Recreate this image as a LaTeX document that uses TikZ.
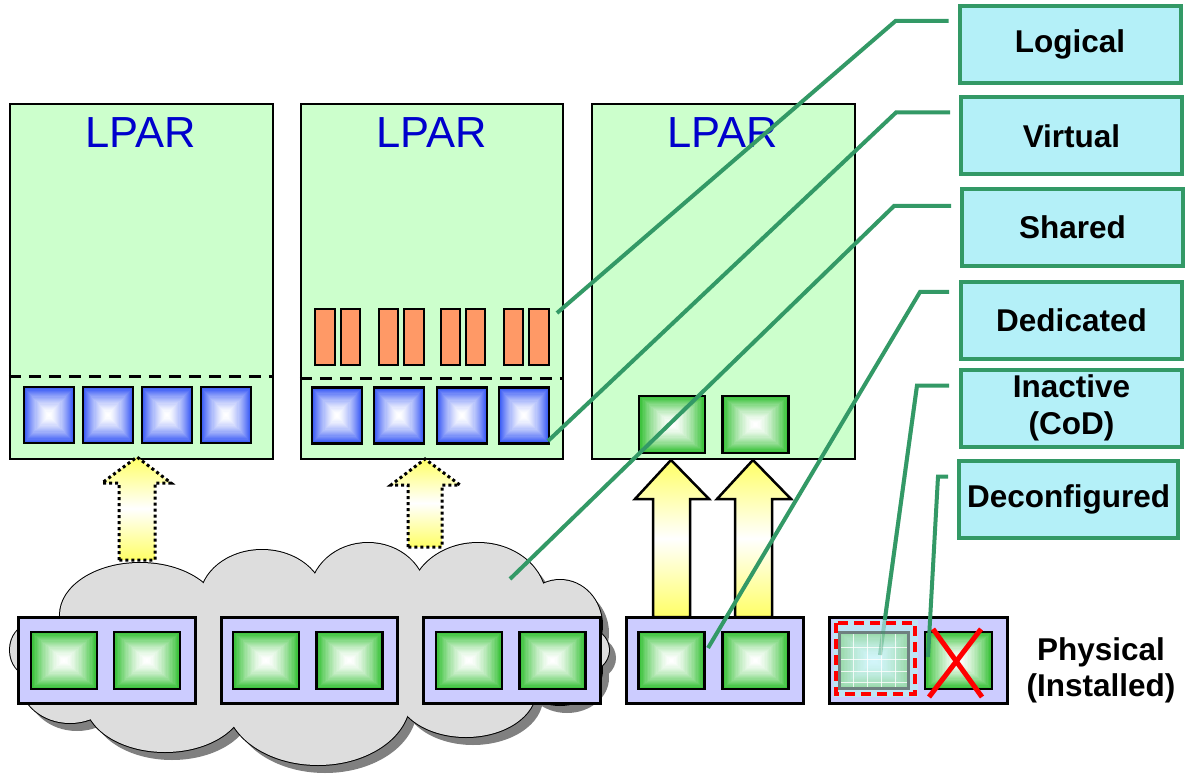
\documentclass[tikz,border=0pt]{standalone}
\usepackage{fontspec}
\setmainfont{Liberation Sans}
\usetikzlibrary{calc}
\definecolor{lparfill}{HTML}{CCFFCC}
\definecolor{lpartext}{HTML}{0000CC}
\definecolor{basefill}{HTML}{CCCCFF}
\definecolor{cloudfill}{HTML}{DDDDDD}
\definecolor{cloudshadow}{HTML}{808080}
\definecolor{barorange}{HTML}{FF9966}
\definecolor{leadgreen}{HTML}{339966}
\definecolor{labelcyan}{HTML}{B4F0F8}
\definecolor{chipgreen}{HTML}{33C033}
\definecolor{chipblue}{HTML}{3355F5}
\definecolor{arrowyellow}{HTML}{FFFF66}
\definecolor{inactbg}{HTML}{BEE4F4}
\definecolor{inactedge}{HTML}{98D8A8}
\definecolor{inactcenter}{HTML}{D2F5FA}
\definecolor{inactgray}{HTML}{6E8080}
\newcommand{\chipfill}[2]{%
  \foreach \i in {0,...,23}{%
    \pgfmathsetmacro{\ff}{\i/48}%
    \pgfmathsetmacro{\pp}{100*(1-\i/23)^1.5}%
    \fill[#1!\pp!#2] ($(path picture bounding box.south west)!\ff!(path picture bounding box.north east)$) rectangle ($(path picture bounding box.north east)!\ff!(path picture bounding box.south west)$);%
  }}
\begin{document}
\begin{tikzpicture}[x=1pt,y=-1pt,
  lparbox/.style={draw=black, line width=2.5pt, fill=lparfill, inner sep=0pt, minimum height=355pt},
  lpartitle/.style={text=lpartext, font=\fontsize{43.5}{48}\selectfont, inner sep=0pt},
  sepline/.style={draw=black, line width=3pt, dash pattern=on 12pt off 8pt},
  chip/.style n args={4}{draw=black, line width=2.5pt, inner sep=0pt, minimum width=#1, minimum height=#2, path picture={\chipfill{#3}{#4}}},
  bar/.style={draw=black, line width=2pt, fill=barorange, inner sep=0pt, minimum width=19.5pt, minimum height=56pt},
  basebox/.style={draw=black, line width=3pt, fill=basefill, inner sep=0pt, minimum height=86pt},
  blockarrow/.style={top color=arrowyellow, bottom color=arrowyellow, middle color=white},
  dottedarrow/.style={blockarrow, draw=black, line width=3pt, dash pattern=on 3pt off 3pt},
  solidarrow/.style={blockarrow, draw=black, line width=2.5pt, line join=miter},
  labelbox/.style={draw=leadgreen, line width=4pt, fill=labelcyan, minimum width=221pt, minimum height=77pt, inner sep=0pt, align=center, font=\fontsize{31.5}{37}\selectfont\bfseries},
  leader/.style={draw=leadgreen, line width=4pt},
  redx/.style={draw=red, line width=5pt}
]
\useasboundingbox (0,0) rectangle (1188,775);

% LPAR boxes
\node[lparbox, minimum width=263pt] (lpar1) at (141.5,281.5) {};
\node[lparbox, minimum width=262pt] (lpar2) at (432,281.5) {};
\node[lparbox, minimum width=263pt] (lpar3) at (723.5,281.5) {};
\node[lpartitle] (t1) at (141,133) {LPAR};
\node[lpartitle] (t2) at (432,133) {LPAR};
\node[lpartitle] (t3) at (723,133) {LPAR};

% separators
\draw[sepline] (lpar1.west |- 0,376) -- (lpar1.east |- 0,376);
\draw[sepline] (lpar2.west |- 0,378) -- (lpar2.east |- 0,378);

% chips inside LPARs
\foreach \n/\x in {1/49,2/108,3/167,4/226}
  \node[chip={50pt}{56pt}{chipblue}{white}] (la\n) at (\x,415) {};
\foreach \n/\x in {1/337,2/399,3/462,4/524}
  \node[chip={50pt}{56pt}{chipblue}{white}] (lb\n) at (\x,415.5) {};
\foreach \n/\x in {1/325,2/350.5,3/388.5,4/414,5/450.5,6/475.5,7/513.5,8/539}
  \node[bar] (o\n) at (\x,337) {};
\foreach \n/\x in {1/672,2/755.5}
  \node[chip={66pt}{57pt}{chipgreen}{white}] (lc\n) at (\x,424.5) {};

% arrows
\path[dottedarrow] (119,560) -- (119,483) -- (102,483) -- (137,457) -- (171,483) -- (155,483) -- (155,560) -- cycle;
\path[dottedarrow] (408,547) -- (408,485) -- (391,485) -- (425,459) -- (460,485) -- (442,485) -- (442,547) -- cycle;
\path[solidarrow] (653,617) -- (653,499) -- (635,499) -- (671,460) -- (709,499) -- (690,499) -- (690,617) -- cycle;
\path[solidarrow] (735,617) -- (735,499) -- (717,499) -- (753,460) -- (791,499) -- (772,499) -- (772,617) -- cycle;

% cloud
\def\cloudlist{140/615/80/52, 262/600/62/50, 368/595/58/52, 478/600/68/57, 560/625/42/45, 585/650/24/22, 560/670/42/35, 466/690/70/47, 318/700/92/65, 165/700/80/52, 70/680/50/43, 30/650/20/25}
\foreach \cx/\cy/\rx/\ry in \cloudlist
  \fill[cloudshadow] (\cx+7,\cy+8) ellipse [x radius=\rx, y radius=\ry];
\foreach \cx/\cy/\rx/\ry in \cloudlist
  \draw[black, line width=2pt] (\cx,\cy) ellipse [x radius=\rx, y radius=\ry];
\foreach \cx/\cy/\rx/\ry in \cloudlist
  \fill[cloudfill] (\cx,\cy) ellipse [x radius=\rx, y radius=\ry];
\fill[cloudfill] (310,650) ellipse [x radius=250, y radius=70];

% physical boxes
\node[basebox, minimum width=177pt] (p1) at (106.5,660) {};
\node[basebox, minimum width=176pt] (p2) at (309,660) {};
\node[basebox, minimum width=177pt] (p3) at (511.5,660) {};
\node[basebox, minimum width=177pt] (p4) at (714.5,660) {};
\node[basebox, minimum width=178pt] (p5) at (918,660) {};
\foreach \n/\x in {1/64,2/147,3/266,4/349.5,5/469,6/552.5,7/671.5,8/755.5}
  \node[chip={66pt}{57pt}{chipgreen}{white}] (pc\n) at (\x,660.5) {};
\node[chip={67pt}{57pt}{chipgreen}{white}] (deconf) at (958.5,660.5) {};

% label boxes
\node[labelbox] (logical) at (1070,44.5) {Logical};
\node[labelbox] (virtual) at (1071.5,136) {Virtual};
\node[labelbox] (shared) at (1072.5,227.5) {Shared};
\node[labelbox] (dedicated) at (1071.5,320.5) {Dedicated};
\node[labelbox] (inactive) at (1071.5,408) {Inactive\\[0pt](CoD)};
\node[labelbox, minimum width=219pt] (deconfigured) at (1068.5,499) {Deconfigured};
\node[inner sep=0pt, align=center, font=\fontsize{31.5}{36}\selectfont\bfseries] (phys) at (1101,670) {Physical\\(Installed)};

% leader end points
\coordinate (eLog) at (557,313);
\coordinate (eVir) at (548,441);
\coordinate (eSha) at (510,579);
\coordinate (eDed) at (708,648);
\coordinate (eIna) at (880,655);
\coordinate (eDec) at (928,657);

\draw[leader] ($(logical.north west)+(-9,17)$) -- ++(-53,0) -- (eLog);
\draw[leader] ($(virtual.north west)+(-9,17)$) -- ++(-54,0) -- (eVir);
\draw[leader] ($(shared.north west)+(-9,19)$) -- ++(-57,0) -- (eSha);
\draw[leader] ($(dedicated.north west)+(-10,12)$) -- ++(-29,0) -- (eDed);
\draw[leader] ($(inactive.north west)+(-10,18)$) -- ++(-32,0) coordinate (bIna) -- (eIna);
\draw[leader] ($(deconfigured.north west)+(-9,18)$) -- ++(-10,0) -- (eDec);

% inactive (CoD) processor
\fill[inactbg] (833,620) rectangle (918,697);
\node[chip={69pt}{56pt}{inactedge}{inactcenter}, draw=inactgray, line width=3.5pt] (inact) at (874,660.5) {};
\foreach \gx in {853,867,881,895}
  \draw[white, line width=0.7pt, opacity=0.8] (\gx,634) -- (\gx,687);
\foreach \gy in {647,659,671,682}
  \draw[white, line width=0.7pt, opacity=0.8] (841,\gy) -- (907,\gy);
\draw[red, line width=3.5pt, dash pattern=on 10pt off 6pt] (836,623) rectangle (915,694);
\draw[leader, draw opacity=0.35] (bIna) -- (eIna);

% deconfigured cross
\draw[redx] (933,629) -- (982,697);
\draw[redx] (929,697) -- (981,629);
\end{tikzpicture}
\end{document}
